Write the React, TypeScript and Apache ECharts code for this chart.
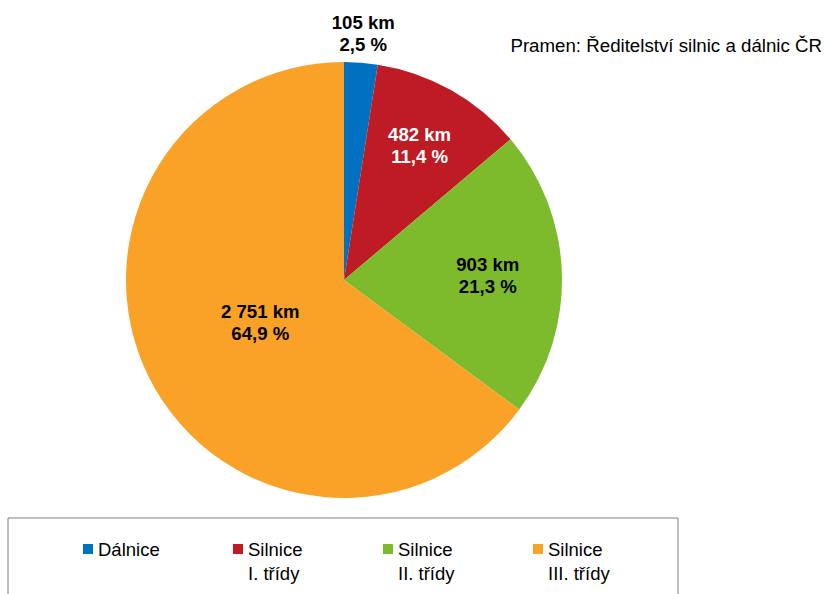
import React, { useEffect, useRef } from "react";
import * as echarts from "echarts";

const categories = ["Dálnice", "Silnice\nI. třídy", "Silnice\nII. třídy", "Silnice\nIII. třídy"];
const lengthsKm = [105, 482, 903, 2751];
const colors = ["#0070C0", "#BE1B24", "#7DBB2D", "#F9A227"];
const labelColors = ["#000000", "#FFFFFF", "#000000", "#000000"];
const labelRadii = [1.135, 0.707, 0.66, 0.43];
const sourceText = "Pramen: Ředitelství silnic a dálnic ČR";

const CX = 344;
const CY = 280;
const R = 218;

function fmtKm(v: number): string {
  return String(v).replace(/\B(?=(\d{3})+(?!\d))/g, " ");
}

export default function App() {
  const ref = useRef<HTMLDivElement>(null);
  useEffect(() => {
    document.body.style.margin = "0";
    if (!ref.current) return;
    const chart = echarts.init(ref.current, null, { renderer: "svg" });
    const font = "'Liberation Sans', Arial, sans-serif";
    chart.setOption({
      animation: false,
      title: {
        text: sourceText,
        right: 3,
        top: 36,
        padding: 0,
        textStyle: { fontFamily: font, fontSize: 18.7, fontWeight: "normal", color: "#000" },
      },
      legend: {
        orient: "horizontal",
        left: 8,
        top: 518,
        padding: [19, 10, 40, 75],
        itemGap: 15,
        itemWidth: 10,
        itemHeight: 34,
        icon: "path://M0,0L10,0L10,10L0,10Z M0,34L10,34L10,34Z",
        borderColor: "#7f7f7f",
        borderWidth: 1,
        borderRadius: 0,
        itemStyle: { borderWidth: 0 },
        selectedMode: false,
        formatter: (name: string) => (name.indexOf("\n") >= 0 ? name : name + "\n "),
        textStyle: {
          fontFamily: font,
          fontSize: 18.5,
          lineHeight: 24,
          color: "#000",
          width: 120,
        },
        data: categories,
      },
      series: [
        {
          type: "pie",
          center: [CX, CY],
          radius: R,
          startAngle: 90,
          clockwise: true,
          avoidLabelOverlap: false,
          itemStyle: { borderWidth: 0 },
          emphasis: { disabled: true },
          labelLine: { show: false },
          label: {
            show: true,
            position: "inside",
            fontFamily: font,
            fontSize: 18.6,
            fontWeight: "bold",
            lineHeight: 22,
            formatter: (p: any) =>
              fmtKm(p.value) + " km\n" + Number(p.percent).toFixed(1).replace(".", ",") + " %",
          },
          labelLayout: (p: any) => {
            const lx = p.labelRect.x + p.labelRect.width / 2;
            const ly = p.labelRect.y + p.labelRect.height / 2;
            const d = Math.hypot(lx - CX, ly - CY) || 1;
            const k = labelRadii[p.dataIndex];
            const tx = CX + ((lx - CX) / d) * k * R;
            const ty = CY + ((ly - CY) / d) * k * R;
            return { dx: tx - lx, dy: ty - ly };
          },
          data: categories.map((name, i) => ({
            name,
            value: lengthsKm[i],
            itemStyle: { color: colors[i] },
            label: { color: labelColors[i] },
          })),
        },
      ],
    });
    return () => chart.dispose();
  }, []);
  return <div ref={ref} style={{ width: 825, height: 594 }} />;
}
